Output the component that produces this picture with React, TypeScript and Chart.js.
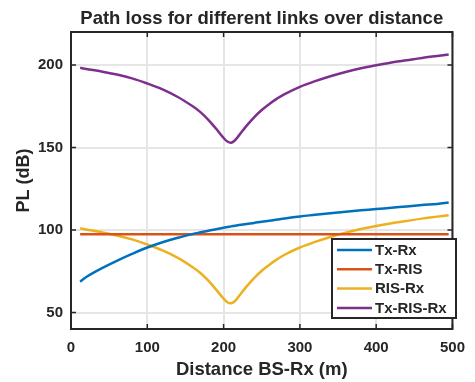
import React, { useEffect, useRef } from "react";
import { Chart, registerables } from "chart.js";

Chart.register(...registerables);

// Distance from base station to receiver (m)
const distance = [
  12, 20, 40, 60, 80, 100, 120, 140, 160, 170, 180, 190, 200, 205, 210, 215, 220,
  230, 240, 250, 260, 270, 280, 300, 320, 340, 360, 380, 400, 420, 440, 460, 480, 495,
];

// Path loss (dB) for each link
const txRx = [
  68.7, 71.5, 76.7, 81.3, 85.5, 89.4, 92.6, 95.3, 97.6, 98.6, 99.6, 100.5, 101.4,
  101.8, 102.2, 102.6, 103.0, 103.7, 104.3, 105.0, 105.6, 106.3, 107.0, 108.2,
  109.2, 110.2, 111.1, 111.9, 112.7, 113.5, 114.3, 115.1, 115.8, 116.6,
];
const txRis = [
  97.4, 97.4, 97.4, 97.4, 97.4, 97.4, 97.4, 97.4, 97.4, 97.4, 97.4, 97.4, 97.4,
  97.4, 97.4, 97.4, 97.4, 97.4, 97.4, 97.4, 97.4, 97.4, 97.4, 97.4, 97.4, 97.4,
  97.4, 97.4, 97.4, 97.4, 97.4, 97.4, 97.4, 97.4,
];
const risRx = [
  101.0, 100.3, 98.6, 96.7, 94.3, 91.2, 87.6, 83.1, 77.3, 73.8, 69.3, 64.0, 58.4,
  56.2, 55.6, 57.0, 59.8, 65.7, 70.9, 75.3, 79.0, 82.2, 85.0, 89.4, 92.8, 95.8,
  98.4, 100.6, 102.4, 104.1, 105.5, 106.9, 108.1, 109.0,
];
const txRisRx = [
  198.3, 197.6, 196.0, 194.2, 191.9, 188.8, 185.2, 180.6, 174.8, 171.3, 166.8,
  161.5, 155.8, 153.6, 152.9, 154.4, 157.2, 163.1, 168.3, 172.7, 176.4, 179.6,
  182.4, 186.8, 190.2, 193.2, 195.8, 198.0, 199.8, 201.5, 202.9, 204.3, 205.5, 206.4,
];

const seriesNames = ["Tx-Rx", "Tx-RIS", "RIS-Rx", "Tx-RIS-Rx"];
const seriesValues = [txRx, txRis, risRx, txRisRx];
const seriesColors = ["#0072BD", "#D95319", "#EDB120", "#7E2F8E"];

const xTicks = [0, 100, 200, 300, 400, 500];
const yTicks = [50, 100, 150, 200];

const chartTitle = "Path loss for different links over distance";
const xTitle = "Distance BS-Rx (m)";
const yTitle = "PL (dB)";

const TEXT = "#262626";
const FONT = "'Liberation Sans', Arial, Helvetica, sans-serif";

// Title over the plot, axes box, inward tick marks on all sides, and the legend
const axesFrame = {
  id: "axesFrame",
  afterDraw(chart: any) {
    const { ctx, chartArea: a, scales } = chart;
    const tickLen = 5;
    ctx.save();

    ctx.fillStyle = TEXT;
    ctx.font = `bold 18.5px ${FONT}`;
    ctx.textAlign = "center";
    ctx.textBaseline = "alphabetic";
    ctx.fillText(chartTitle, (a.left + a.right) / 2, 24);

    ctx.strokeStyle = TEXT;
    ctx.lineWidth = 1.5;
    ctx.beginPath();
    xTicks.forEach((v) => {
      const px = scales.x.getPixelForValue(v);
      ctx.moveTo(px, a.bottom);
      ctx.lineTo(px, a.bottom - tickLen);
      ctx.moveTo(px, a.top);
      ctx.lineTo(px, a.top + tickLen);
    });
    yTicks.forEach((v) => {
      const py = scales.y.getPixelForValue(v);
      ctx.moveTo(a.left, py);
      ctx.lineTo(a.left + tickLen, py);
      ctx.moveTo(a.right, py);
      ctx.lineTo(a.right - tickLen, py);
    });
    ctx.stroke();

    ctx.lineWidth = 2;
    ctx.strokeRect(a.left, a.top, a.right - a.left, a.bottom - a.top);

    // Legend box in the lower right of the plot
    const boxLeft = 332;
    const boxTop = 239;
    const boxW = 124;
    const boxH = 79;
    ctx.fillStyle = "#ffffff";
    ctx.fillRect(boxLeft, boxTop, boxW, boxH);
    ctx.strokeStyle = TEXT;
    ctx.lineWidth = 2;
    ctx.strokeRect(boxLeft, boxTop, boxW, boxH);
    ctx.font = `bold 15px ${FONT}`;
    ctx.textBaseline = "middle";
    ctx.textAlign = "left";
    chart.data.datasets.forEach((ds: any, i: number) => {
      const cy = boxTop + 11 + i * 19.3;
      ctx.strokeStyle = ds.borderColor;
      ctx.lineWidth = 2.5;
      ctx.beginPath();
      ctx.moveTo(boxLeft + 5, cy);
      ctx.lineTo(boxLeft + 40, cy);
      ctx.stroke();
      ctx.fillStyle = TEXT;
      ctx.fillText(ds.label, boxLeft + 43, cy + 0.5);
    });
    ctx.restore();
  },
};

export default function App() {
  const canvasRef = useRef<HTMLCanvasElement | null>(null);

  useEffect(() => {
    document.body.style.margin = "0";
    const canvas = canvasRef.current;
    if (!canvas) return;

    const chart = new Chart(canvas, {
      type: "line",
      data: {
        datasets: seriesNames.map((name, i) => ({
          label: name,
          data: distance.map((d, j) => ({ x: d, y: seriesValues[i][j] })),
          borderColor: seriesColors[i],
          backgroundColor: seriesColors[i],
          borderWidth: 2.5,
          pointRadius: 0,
          fill: false,
          tension: 0.35,
        })),
      },
      options: {
        animation: false,
        responsive: false,
        maintainAspectRatio: false,
        layout: { padding: { left: 0, right: 14, top: 32, bottom: 0 } },
        plugins: {
          legend: { display: false },
          tooltip: { enabled: false },
          title: { display: false },
        },
        scales: {
          x: {
            type: "linear",
            min: 0,
            max: 500,
            afterBuildTicks: (s: any) => {
              s.ticks = xTicks.map((v) => ({ value: v }));
            },
            afterFit: (s: any) => {
              s.height = 53;
            },
            grid: { color: "#e6e6e6", lineWidth: 2, drawTicks: false },
            border: { display: false },
            ticks: {
              color: TEXT,
              padding: 10,
              maxRotation: 0,
              font: { family: FONT, size: 15, weight: "bold" },
            },
            title: {
              display: true,
              text: xTitle,
              color: TEXT,
              font: { family: FONT, size: 18.5, weight: "bold" },
              padding: { top: 0, bottom: 1 },
            },
          },
          y: {
            type: "linear",
            min: 40,
            max: 220,
            afterBuildTicks: (s: any) => {
              s.ticks = yTicks.map((v) => ({ value: v }));
            },
            afterFit: (s: any) => {
              s.width = 71;
            },
            grid: { color: "#e6e6e6", lineWidth: 2, drawTicks: false },
            border: { display: false },
            ticks: {
              color: TEXT,
              padding: 8,
              font: { family: FONT, size: 15, weight: "bold" },
            },
            title: {
              display: true,
              text: yTitle,
              color: TEXT,
              font: { family: FONT, size: 18, weight: "bold" },
              padding: { top: 13, bottom: 0 },
            },
          },
        },
      },
      plugins: [axesFrame],
    });

    return () => chart.destroy();
  }, []);

  return (
    <div style={{ width: 475, height: 382, position: "relative" }}>
      <canvas ref={canvasRef} width={475} height={382} style={{ display: "block" }} />
    </div>
  );
}
